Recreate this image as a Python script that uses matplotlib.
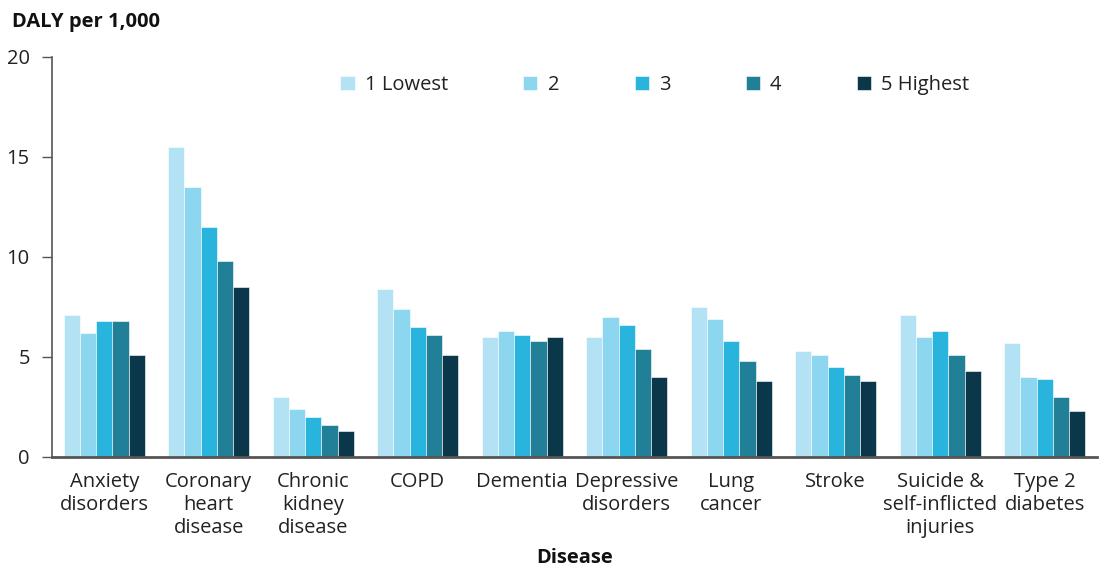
#!/usr/bin/env python3
"""
DALY per 1,000 by disease and socioeconomic quintile (grouped bar chart).
"""

import numpy as np
import matplotlib
matplotlib.use("Agg")
import matplotlib.pyplot as plt

plt.rcParams['font.family'] = ['Open Sans', 'DejaVu Sans']

# Data
diseases = [
    "Anxiety\ndisorders", "Coronary\nheart\ndisease", "Chronic\nkidney\ndisease",
    "COPD", "Dementia", "Depressive\ndisorders", "Lung\ncancer", "Stroke",
    "Suicide &\nself-inflicted\ninjuries", "Type 2\ndiabetes",
]
quintiles = ["1 Lowest", "2", "3", "4", "5 Highest"]

q1_lowest = [7.1, 15.5, 3.0, 8.4, 6.0, 6.0, 7.5, 5.3, 7.1, 5.7]
q2 = [6.2, 13.5, 2.4, 7.4, 6.3, 7.0, 6.9, 5.1, 6.0, 4.0]
q3 = [6.8, 11.5, 2.0, 6.5, 6.1, 6.6, 5.8, 4.5, 6.3, 3.9]
q4 = [6.8, 9.8, 1.6, 6.1, 5.8, 5.4, 4.8, 4.1, 5.1, 3.0]
q5_highest = [5.1, 8.5, 1.3, 5.1, 6.0, 4.0, 3.8, 3.8, 4.3, 2.3]

series = [q1_lowest, q2, q3, q4, q5_highest]
colors = ['#B3E2F4', '#8DD6EF', '#28B4DC', '#227F98', '#0A374A']


def main():
    fig = plt.figure(figsize=(11, 5.67), dpi=100)
    ax = fig.add_axes([52 / 1100, 1 - 457 / 567, 1045 / 1100, 400 / 567])

    x = np.arange(len(diseases))
    width = 0.155
    for i, (vals, name) in enumerate(zip(series, quintiles)):
        ax.bar(x + (i - 2) * width, vals, width, color=colors[i], label=name,
               edgecolor='white', linewidth=0.4)

    fs = 14.5
    ax.set_xlim(-0.5, len(diseases) - 0.5)
    ax.set_ylim(0, 20)
    ax.set_yticks([0, 5, 10, 15, 20])
    ax.set_xticks(x)
    ax.set_xticklabels(diseases, fontsize=fs, color='#222222', linespacing=1.2)
    ax.tick_params(axis='x', length=0, pad=11)
    ax.tick_params(axis='y', labelsize=fs, labelcolor='#222222', length=7,
                   width=1, color='#555555', pad=9)

    for side in ['top', 'right']:
        ax.spines[side].set_visible(False)
    ax.spines['left'].set_color('#555555')
    ax.spines['left'].set_linewidth(1.2)
    ax.spines['bottom'].set_color('#555555')
    ax.spines['bottom'].set_linewidth(2)

    fig.text(12 / 1100, 1 - 22 / 567, "DALY per 1,000", fontsize=fs,
             fontweight='bold', color='#111111', va='center', ha='left')
    fig.text(0.5 * (52 + 1097) / 1100, 1 - 558 / 567, "Disease", fontsize=fs,
             fontweight='bold', color='#111111', va='center', ha='center')

    ax.legend(loc='center left', bbox_to_anchor=(0.276, 0.93), ncol=5,
              frameon=False, fontsize=fs, handlelength=0.7, handleheight=0.7,
              handletextpad=0.5, columnspacing=3.75, labelcolor='#222222',
              borderaxespad=0, borderpad=0)

    fig.savefig('out.png', dpi=100)
    plt.close(fig)


if __name__ == "__main__":
    main()
